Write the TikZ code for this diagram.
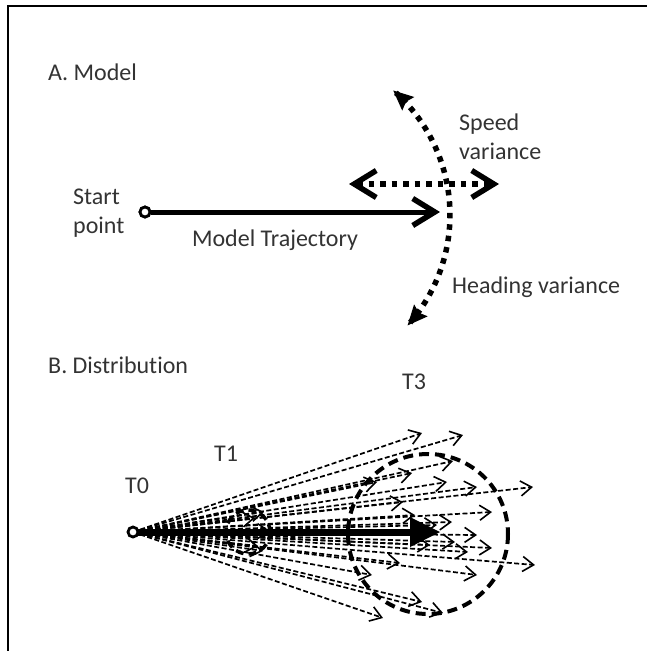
\documentclass[tikz,border=0pt]{standalone}
\usepackage{fontspec}
\setmainfont{Carlito}[Ligatures=NoCommon]
\usetikzlibrary{arrows.meta}
\definecolor{txt}{HTML}{333333}
\begin{document}
\begin{tikzpicture}[x=1pt,y=-1pt,
  lbl/.style={text=txt, font=\fontsize{24}{29}\selectfont, inner sep=0pt},
  ring/.style={circle, draw, line width=2.8pt, fill=white, minimum size=10pt, inner sep=0pt},
  dotline/.style={line width=5.5pt, dash pattern=on 5.5pt off 6pt},
  fan/.style={line width=1.7pt, dash pattern=on 5pt off 2.5pt,
    -{Straight Barb[length=11pt,width=15pt,line width=1.6pt]}},
  chev/.tip={Straight Barb[length=22pt,width=27pt,line width=5.5pt]},
  headtip/.tip={Stealth[length=20pt,width=18pt,inset=3pt,line width=1pt]}]
\path[use as bounding box] (0,0) rectangle (647,651);
\clip (0,0) rectangle (647,651);
% outer frame
\draw[line width=2pt] (8,700) -- (8,6) -- (700,6);

% ---------- A. Model ----------
\node[lbl, anchor=west] (titleA) at (48,72) {A. Model};
\node[lbl, anchor=west, align=left] (startlbl) at (73,213) {Start\\point};
\node[lbl] (trajlbl) at (275,240) {Model Trajectory};
\node[lbl, anchor=west, align=left] (speedlbl) at (459,137) {Speed\\variance};
\node[lbl, anchor=west] (headlbl) at (452,287) {Heading variance};

% heading variance: dotted arc with heads at both ends
\draw[dotline, headtip-headtip]
  plot[domain=-42:49, samples=60, smooth] ({285+165*cos(\x)},{215-165*sin(\x)});
% speed variance
\coordinate (sl) at (349,184);
\coordinate (sr) at (499,184);
\draw[dotline, chev-chev] (sl) -- (sr);
% model trajectory
\node[ring] (start) at (145,212) {};
\coordinate (traj) at (440,212);
\draw[line width=5pt, -chev] (start) -- (traj);
\node[ring] at (start) {};

% ---------- B. Distribution ----------
\node[lbl, anchor=west] (titleB) at (48,365) {B. Distribution};
\node[lbl] (t3) at (414,382) {T3};
\node[lbl] (t1) at (226,454) {T1};
\node[lbl] (t0) at (137,486) {T0};

\coordinate (T0) at (133,532);
% sampled trajectories fanning out from T0
\foreach \ex/\ey [count=\i] in {
  422/433, 463/435, 453/461, 412/473, 447/482, 477/487, 533/487,
  403/502, 492/512, 452/522, 477/535, 492/548, 468/552, 535/565,
  477/575, 400/563, 422/602, 443/613, 383/618,
  377/482, 372/575, 437/525, 455/542, 430/545, 415/515,
  264/512, 270/531, 263/551, 255/518, 258/546}
{
  \coordinate (e\i) at (\ex,\ey);
  \draw[fan] (T0) -- (e\i);
}
% spread at T1 and T3
\draw[line width=3.5pt, dash pattern=on 8pt off 5pt] (248,532) circle[radius=22];
\draw[line width=4pt, dash pattern=on 10pt off 6pt] (428,534) circle[radius=80];
% mean trajectory
\coordinate (mean) at (440,532);
\draw[line width=7pt, -{Triangle[length=30pt,width=30pt,line width=0pt]}] (T0) -- (mean);
\node[ring] (t0pt) at (T0) {};
\end{tikzpicture}
\end{document}
